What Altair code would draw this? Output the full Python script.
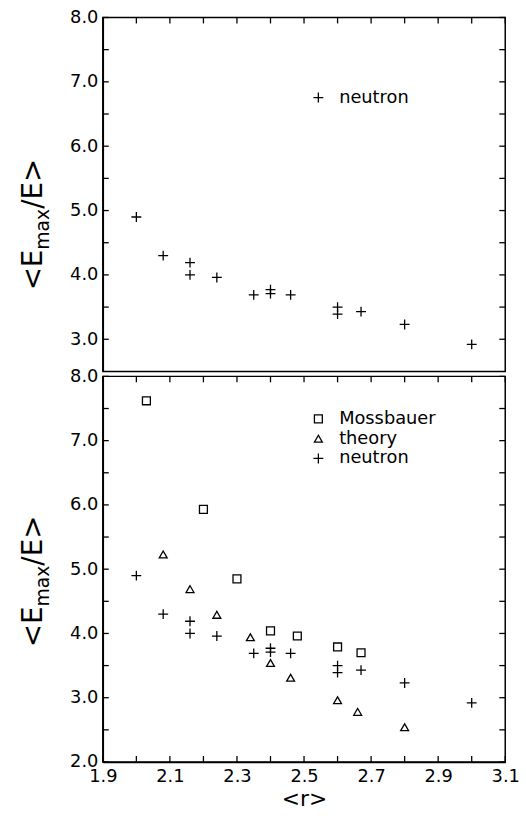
import altair as alt
import pandas as pd

# ---------------- data ----------------
neutron_r = [2.00, 2.08, 2.16, 2.16, 2.24, 2.35, 2.40, 2.40, 2.46, 2.60, 2.60, 2.67, 2.80, 3.00]
neutron_e = [4.90, 4.30, 4.19, 4.00, 3.96, 3.69, 3.77, 3.71, 3.69, 3.50, 3.39, 3.43, 3.23, 2.92]

moss_r = [2.03, 2.20, 2.30, 2.40, 2.48, 2.60, 2.67]
moss_e = [7.62, 5.93, 4.85, 4.04, 3.96, 3.79, 3.70]

theory_r = [2.08, 2.16, 2.24, 2.34, 2.40, 2.46, 2.60, 2.66, 2.80]
theory_e = [5.23, 4.69, 4.29, 3.94, 3.54, 3.31, 2.96, 2.78, 2.54]

series_names = ["Mossbauer", "theory", "neutron"]
title_pieces = ["<E", "max", "/E>"]
x_title = "<r>"

x_label_values = [1.9, 2.1, 2.3, 2.5, 2.7, 2.9, 3.1]
x_tick_values = [1.9, 2.0, 2.1, 2.2, 2.3, 2.4, 2.5, 2.6, 2.7, 2.8, 2.9, 3.0, 3.1]
y_label_top = [3, 4, 5, 6, 7, 8]
y_tick_top = [3.0, 3.5, 4.0, 4.5, 5.0, 5.5, 6.0, 6.5, 7.0, 7.5, 8.0]
y_label_bot = [2, 3, 4, 5, 6, 7, 8]
y_tick_bot = [2.0, 2.5, 3.0, 3.5, 4.0, 4.5, 5.0, 5.5, 6.0, 6.5, 7.0, 7.5, 8.0]

# ---------------- styling ----------------
FONT = "DejaVu Sans"
W = 407
H_TOP = 358
H_BOT = 390
TICK = 6
PLUS = "M-1.25,0H1.25M0,-1.25V1.25"
shape_for = {"Mossbauer": "square", "theory": "triangle-up", "neutron": PLUS}
BIG = 28
SMALL = 19

df_bot = pd.concat([
    pd.DataFrame({"r": moss_r, "e": moss_e, "series": "Mossbauer"}),
    pd.DataFrame({"r": theory_r, "e": theory_e, "series": "theory"}),
    pd.DataFrame({"r": neutron_r, "e": neutron_e, "series": "neutron"}),
], ignore_index=True)
df_top = pd.DataFrame({"r": neutron_r, "e": neutron_e, "series": "neutron"})

common_axis = dict(domainColor="black", tickColor="black", labelColor="black",
                   titleColor="black", domainWidth=1.5, tickWidth=1.3, grid=False,
                   labelFont=FONT, labelFontSize=18, labelFlush=False, labelOverlap=False)


def y_title_layers(y0):
    # "<E" + subscript "max" + "/E>" written bottom-to-top
    w1 = 1.47 * BIG
    w2 = 2.18 * SMALL
    specs = [(title_pieces[0], BIG, -62, y0),
             (title_pieces[1], SMALL, -54, y0 - w1),
             (title_pieces[2], BIG, -62, y0 - w1 - w2)]
    out = []
    for txt, fs, xx, yy in specs:
        out.append(
            alt.Chart(pd.DataFrame({"t": [txt]})).mark_text(
                angle=270, align="left", baseline="alphabetic", font=FONT,
                fontSize=fs, color="black").encode(
                text="t:N", x=alt.value(xx), y=alt.value(yy))
        )
    return out


def panel(df, height, ydom, ylabels, yticks, bottom_axis, names, legend_x, legend_y, title_y0):
    xs = alt.Scale(domain=[1.9, 3.1], nice=False, zero=False)
    ys = alt.Scale(domain=ydom, nice=False, zero=False)

    if bottom_axis:
        x_ax = alt.Axis(orient="bottom", values=x_label_values, format=".1f", ticks=False,
                        domain=True, title=x_title, titleFont=FONT, titleFontSize=22,
                        titleFontWeight="normal", titlePadding=3, labelPadding=6, **common_axis)
    else:
        x_ax = alt.Axis(orient="bottom", values=x_label_values, labels=False, ticks=False,
                        domain=False, title=None, **common_axis)
    y_ax = alt.Axis(orient="left", values=ylabels, format=".1f", ticks=False, domain=True,
                    title=None, labelPadding=5, **common_axis)

    main = alt.Chart(df).mark_point(filled=False, color="black", strokeWidth=1.3, size=64,
                                    opacity=1).encode(
        x=alt.X("r:Q", scale=xs, axis=x_ax),
        y=alt.Y("e:Q", scale=ys, axis=y_ax),
        shape=alt.Shape("series:N",
                        scale=alt.Scale(domain=names, range=[shape_for[n] for n in names]),
                        legend=alt.Legend(orient="none", legendX=legend_x, legendY=legend_y,
                                          title=None, labelFont=FONT, labelFontSize=18,
                                          labelColor="black", symbolSize=64,
                                          symbolStrokeWidth=1.3, symbolStrokeColor="black",
                                          symbolFillColor="transparent", labelOffset=12,
                                          rowPadding=2, padding=0)),
    )

    rule = dict(color="black", strokeWidth=1.3)
    df_xt = pd.DataFrame({"v": x_tick_values})
    df_yt = pd.DataFrame({"v": yticks})
    layers = [main]
    # inward ticks on the top edge
    layers.append(alt.Chart(df_xt).mark_rule(**rule).encode(
        x=alt.X("v:Q", scale=xs, axis=x_ax), y=alt.value(0), y2=alt.value(TICK)))
    # inward ticks on the bottom edge
    if bottom_axis:
        layers.append(alt.Chart(df_xt).mark_rule(**rule).encode(
            x=alt.X("v:Q", scale=xs, axis=x_ax), y=alt.value(height - TICK), y2=alt.value(height)))
    # inward ticks on the left and right edges
    layers.append(alt.Chart(df_yt).mark_tick(color="black", thickness=1.3, size=TICK,
                                             opacity=1).encode(
        y=alt.Y("v:Q", scale=ys, axis=y_ax), x=alt.value(TICK / 2)))
    layers.append(alt.Chart(df_yt).mark_tick(color="black", thickness=1.3, size=TICK,
                                             opacity=1).encode(
        y=alt.Y("v:Q", scale=ys, axis=y_ax), x=alt.value(W - TICK / 2)))

    layers += y_title_layers(title_y0)
    return alt.layer(*layers).properties(width=W, height=height)


top = panel(df_top, H_TOP, [2.5, 8.0], y_label_top, y_tick_top, False, ["neutron"], 209, 72, 276)
bot = panel(df_bot, H_BOT, [2.0, 8.0], y_label_bot, y_tick_bot, True, series_names, 209, 34, 274)

chart = alt.vconcat(top, bot, spacing=5, bounds="flush").resolve_scale(
    shape="independent"
).properties(
    padding={"left": 19, "top": 3, "right": 5, "bottom": 5},
    background="white",
).configure_view(stroke="black", strokeWidth=1.5)

chart.save("out.html", embed_options={"renderer": "svg", "actions": False})
